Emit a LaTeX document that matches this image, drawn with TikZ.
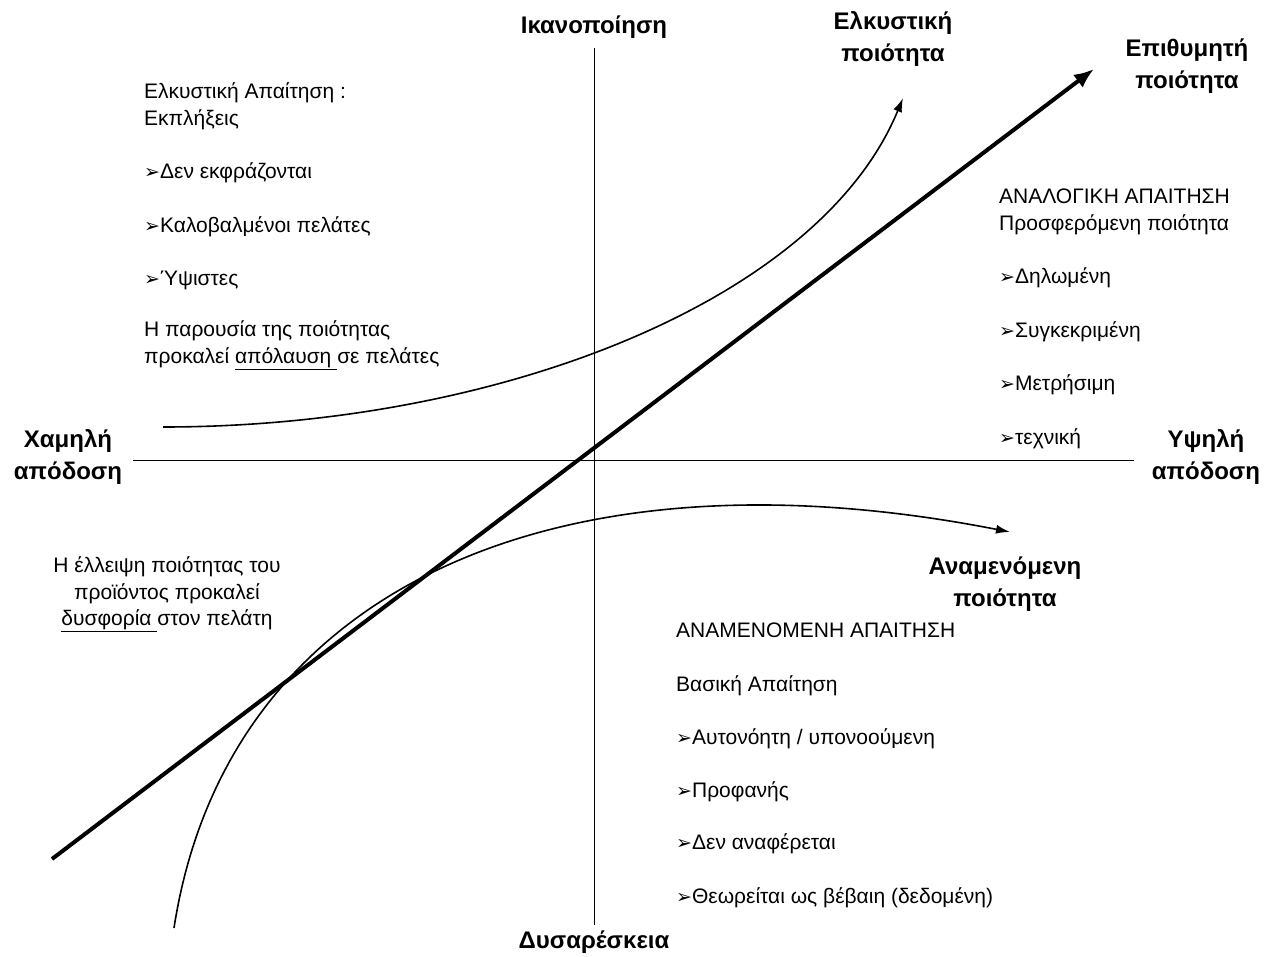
\documentclass[tikz,border=0pt]{standalone}
\usepackage{fontspec}
\setmainfont{Liberation Sans}
\newfontfamily\dvfont{DejaVu Sans}
\usetikzlibrary{arrows.meta}
\newcommand\arrbul{{\dvfont\fontsize{19}{19}\selectfont ➢}}
\begin{document}
\begin{tikzpicture}[x=1pt,y=-1pt,
  txt/.style={font=\fontsize{21}{25}\selectfont, inner sep=0pt, text height=16pt, text depth=5pt, anchor=west},
  ctxt/.style={txt, anchor=center},
  lbl/.style={font=\fontsize{24}{32}\selectfont\bfseries, align=center, inner sep=0pt},
  axis/.style={line width=1pt},
  curve/.style={line width=1.6pt, -{Latex[length=14pt,width=9pt]}},
  thick diag/.style={line width=4pt, -{Latex[length=20pt,width=16pt]}}]
\useasboundingbox (0,0) rectangle (1266,957);

% axes
\coordinate (vtop) at (594,48);
\coordinate (vbot) at (594,925);
\coordinate (hl) at (133,460);
\coordinate (hr) at (1134,460);
\draw[axis] (vtop) -- (vbot);
\draw[axis] (hl) -- (hr);

% diagonal
\coordinate (d0) at (52,859);
\coordinate (d1) at (1094,69);
\draw[thick diag] (d0) -- (d1);

% curves
\coordinate (u0) at (163,427);
\coordinate (u1) at (903,98);
\draw[curve] (u0) .. controls (500,427) and (820,300) .. (u1);
\coordinate (l0) at (174,928);
\coordinate (l1) at (1010,532);
\draw[curve] (l0) .. controls (226,592) and (550,442) .. (l1);

% axis labels
\node[lbl] (sat) at (594,27) {Ικανοποίηση};
\node[lbl] (dis) at (594,942) {Δυσαρέσκεια};
\node[lbl] (low) at (68,457) {Χαμηλή\\απόδοση};
\node[lbl] (high) at (1206,457) {Υψηλή\\απόδοση};
\node[lbl] (attr) at (893,39) {Ελκυστική\\ποιότητα};
\node[lbl] (want) at (1187,66) {Επιθυμητή\\ποιότητα};
\node[lbl] (exp) at (1005,584) {Αναμενόμενη\\ποιότητα};

% left top block
\node[txt] (a1) at (144,93) {Ελκυστική Απαίτηση :};
\node[txt] (a2) at (144,120) {Εκπλήξεις};
\node[txt] (a3) at (144,173) {\arrbul Δεν εκφράζονται};
\node[txt] (a4) at (144,227) {\arrbul Καλοβαλμένοι πελάτες};
\node[txt] (a5) at (144,280) {\arrbul Ύψιστες};
\node[txt] (a6) at (144,331) {Η παρουσία της ποιότητας};
\node[txt] (a7) at (144,358) {προκαλεί \underline{απόλαυση\ }σε πελάτες};

% right block
\node[txt] (b1) at (999,198) {ΑΝΑΛΟΓΙΚΗ ΑΠΑΙΤΗΣΗ};
\node[txt] (b2) at (999,225) {Προσφερόμενη ποιότητα};
\node[txt] (b3) at (999,278) {\arrbul Δηλωμένη};
\node[txt] (b4) at (999,332) {\arrbul Συγκεκριμένη};
\node[txt] (b5) at (999,385) {\arrbul Μετρήσιμη};
\node[txt] (b6) at (999,439) {\arrbul τεχνική};

% bottom left block
\node[ctxt] (c1) at (167,567) {Η έλλειψη ποιότητας του};
\node[ctxt] (c2) at (167,594) {προϊόντος προκαλεί};
\node[ctxt] (c3) at (167,620) {\underline{δυσφορία\ }στον πελάτη};

% bottom right block
\node[txt] (e1) at (676,632) {ΑΝΑΜΕΝΟΜΕΝΗ ΑΠΑΙΤΗΣΗ};
\node[txt] (e2) at (676,686) {Βασική Απαίτηση};
\node[txt] (e3) at (676,739) {\arrbul Αυτονόητη / υπονοούμενη};
\node[txt] (e4) at (676,792) {\arrbul Προφανής};
\node[txt] (e5) at (676,844) {\arrbul Δεν αναφέρεται};
\node[txt] (e6) at (676,898) {\arrbul Θεωρείται ως βέβαιη (δεδομένη)};
\end{tikzpicture}
\end{document}
